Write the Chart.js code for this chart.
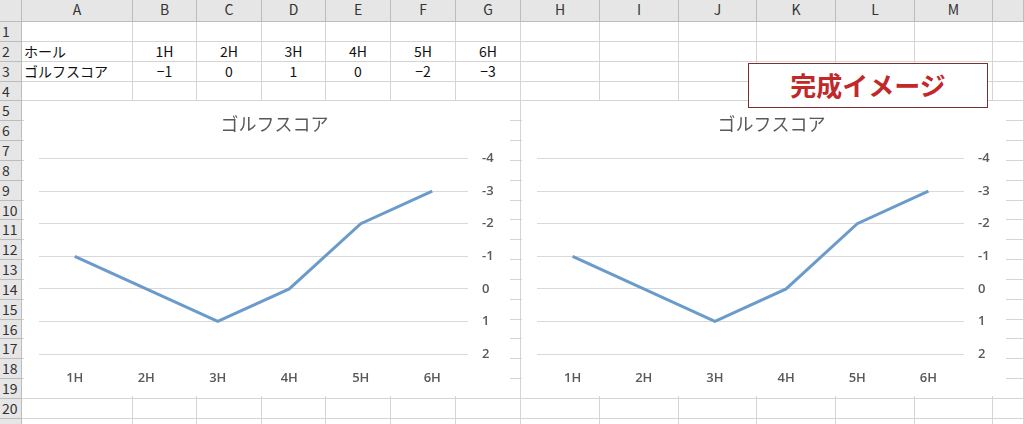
<!DOCTYPE html>
<html><head><meta charset="utf-8">
<script src="https://cdn.jsdelivr.net/npm/chart.js@4"></script>
<style>
body{margin:0;width:1024px;height:424px;overflow:hidden;background:#fff;font-family:"Noto Sans CJK JP",sans-serif;}
#sheet{position:absolute;left:0;top:0;width:1024px;height:424px;}
.c{position:absolute;box-sizing:border-box;border-right:1px solid #d4d4d4;border-bottom:1px solid #d4d4d4;font-size:14px;color:#111;line-height:19px;white-space:nowrap;}
.h{background:#e6e6e6;color:#333;text-align:center;border-color:#bcbcbc;}
.box{position:absolute;background:#fff;}
canvas{display:block}
#img{position:absolute;left:748px;top:63px;width:240px;height:45px;box-sizing:border-box;border:1.5px solid #7a3030;background:#fff;color:#c0282a;font-weight:bold;font-size:26px;text-align:center;line-height:42px;font-family:"Noto Sans CJK JP";}
</style></head><body>
<div id="sheet"></div>
<div class="box" style="left:24px;top:101px;width:486px;height:295px"><canvas id="c1" width="486" height="295"></canvas></div>
<div class="box" style="left:522px;top:101px;width:484px;height:295px"><canvas id="c2" width="484" height="295"></canvas></div>
<div id="img">完成イメージ</div>
<script>
const holes=["1H","2H","3H","4H","5H","6H"];
const scores=[-1,0,1,0,-2,-3];
const rowLabel1="ホール", rowLabel2="ゴルフスコア";
const chartTitle="ゴルフスコア";
const colLetters=["A","B","C","D","E","F","G","H","I","J","K","L","M",""];
const colEdges=[22,133,197,262,326,391,456,521,600,679,757,836,915,993,1024];
const rowH=19.84, top0=22;
const sh=document.getElementById('sheet');
function cell(x,y,w,h,txt,cls,align){const d=document.createElement('div');d.className='c '+(cls||'');d.style.left=x+'px';d.style.top=y+'px';d.style.width=w+'px';d.style.height=h+'px';d.textContent=txt;if(align)d.style.textAlign=align;if(align==='left')d.style.paddingLeft='2px';sh.appendChild(d);}
cell(0,0,22,top0,"","h");
for(let i=0;i<colLetters.length;i++)cell(colEdges[i],0,colEdges[i+1]-colEdges[i],top0,colLetters[i],"h");
for(let r=1;r<=21;r++){const y=top0+(r-1)*rowH;cell(0,y,22,rowH,String(r),"h","left");
 for(let i=0;i<colLetters.length;i++){let t="",al="center";
  if(r===2){if(i===0){t=rowLabel1;al="left"}else if(i<=6)t=holes[i-1];}
  if(r===3){if(i===0){t=rowLabel2;al="left"}else if(i<=6)t=String(scores[i-1]).replace('-','−');}
  cell(colEdges[i],y,colEdges[i+1]-colEdges[i],rowH,t,"",al);}}
function mk(id){
 new Chart(document.getElementById(id),{type:'line',
 data:{labels:holes,datasets:[{data:scores,borderColor:'#6b9bcb',borderWidth:3,pointRadius:0,tension:0,fill:false}]},
 options:{responsive:false,animation:false,
  layout:{padding:{left:15,right:0,top:0,bottom:0}},
  plugins:{legend:{display:false},tooltip:{enabled:false},
   title:{display:true,text:chartTitle,color:'#595959',font:{size:18,weight:'normal',family:'"Noto Sans CJK JP"'},padding:{top:12,bottom:24}}},
  scales:{
   x:{offset:true,grid:{display:false},border:{display:false},ticks:{color:'#595959',font:{size:13,weight:'600',family:'"Open Sans"'},padding:8},afterFit(a){a.height=42;}},
   y:{position:'right',reverse:true,min:-4,max:2,grid:{color:'#d9d9d9',drawTicks:false},border:{display:false},
      ticks:{stepSize:1,color:'#595959',font:{size:13,weight:'600',family:'"Open Sans"'},padding:14},afterFit(a){a.width=42;}}
  }}});
}
mk('c1');mk('c2');
</script></body></html>
